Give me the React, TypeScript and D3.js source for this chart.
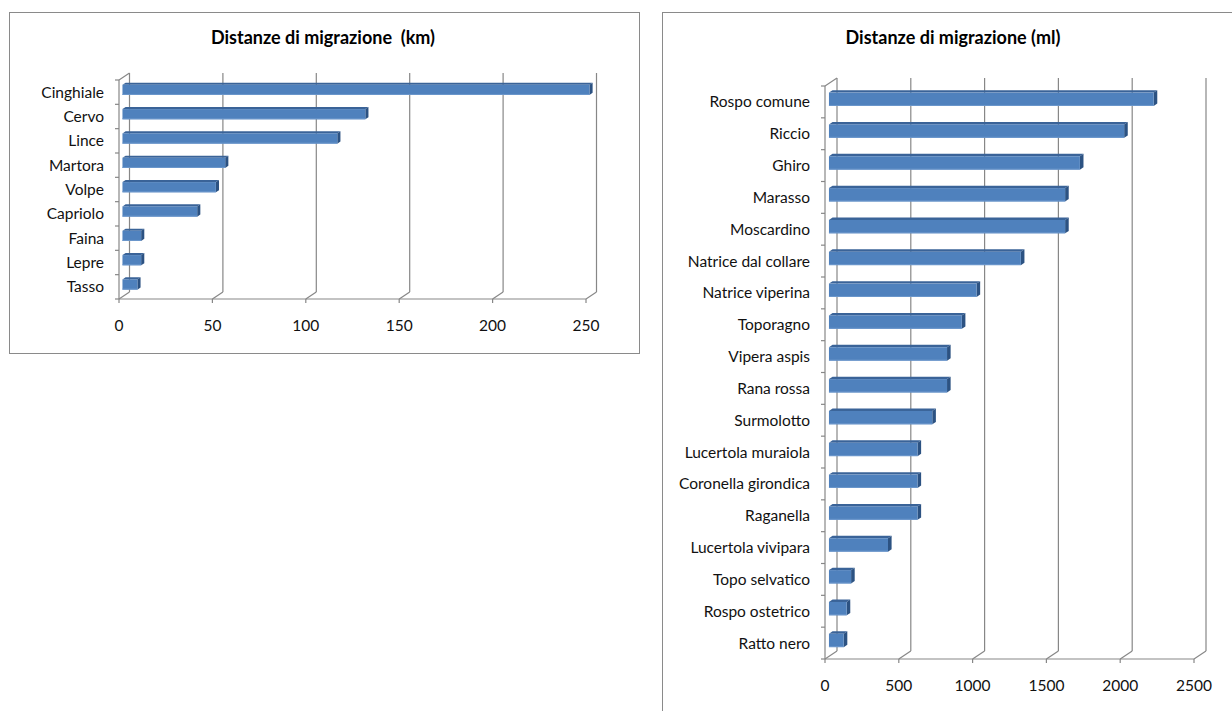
import * as d3 from "d3";
import React from "react";

// distanze in km (mammiferi)
const kmSpecies = ["Cinghiale", "Cervo", "Lince", "Martora", "Volpe", "Capriolo", "Faina", "Lepre", "Tasso"];
const kmValues = [250, 130, 115, 55, 50, 40, 10, 10, 8];
const kmTicks = [0, 50, 100, 150, 200, 250];

// distanze in metri lineari
const mlSpecies = [
  "Rospo comune", "Riccio", "Ghiro", "Marasso", "Moscardino", "Natrice dal collare",
  "Natrice viperina", "Toporagno", "Vipera aspis", "Rana rossa", "Surmolotto",
  "Lucertola muraiola", "Coronella girondica", "Raganella", "Lucertola vivipara",
  "Topo selvatico", "Rospo ostetrico", "Ratto nero",
];
const mlValues = [2200, 2000, 1700, 1600, 1600, 1300, 1000, 900, 800, 800, 700, 600, 600, 600, 400, 150, 120, 100];
const mlTicks = [0, 500, 1000, 1500, 2000, 2500];

const FONT = "Lato, 'Open Sans', sans-serif";
const GRID = "#878787";

type Layout = {
  frame: [number, number, number, number];
  titleX: number;
  titleY: number;
  x0: number;
  x1: number;
  yTop: number;
  yBottom: number;
  dx: number;
  dy: number;
  labelX: number;
  tickLabelY: number;
};

const Chart3D = ({ title, cats, vals, ticks, layout }: { title: string; cats: string[]; vals: number[]; ticks: number[]; layout: Layout }) => {
  const { dx, dy } = layout;
  const x = d3.scaleLinear().domain([0, ticks[ticks.length - 1]]).range([layout.x0, layout.x1]);
  const y = d3.scaleBand().domain(cats).range([layout.yTop, layout.yBottom]);
  const bw = y.bandwidth() * 0.42;
  const f0 = 0.33, f1 = 0.63; // bar depth inside the floor
  const ddx = (f1 - f0) * dx, ddy = (f1 - f0) * dy;
  const boundaries = cats.map((c) => y(c)!).concat([layout.yBottom]);
  const [fx, fy, fw, fh] = layout.frame;

  return (
    <g>
      <rect x={fx} y={fy} width={fw} height={fh} fill="#fff" stroke="#8a8a8a" strokeWidth={1} />
      <text x={layout.titleX} y={layout.titleY} textAnchor="middle" fontFamily={FONT} fontWeight="bold" fontSize={18} fill="#000" style={{ whiteSpace: "pre" }}>
        {title}
      </text>

      {/* back wall gridlines */}
      {ticks.map((t) => (
        <line key={"g" + t} x1={x(t) + dx} x2={x(t) + dx} y1={layout.yTop + dy} y2={layout.yBottom + dy} stroke={GRID} strokeWidth={1.2} />
      ))}
      {/* floor */}
      {ticks.map((t) => (
        <line key={"f" + t} x1={x(t)} x2={x(t) + dx} y1={layout.yBottom} y2={layout.yBottom + dy} stroke={GRID} strokeWidth={1.2} />
      ))}
      <line x1={x(0)} x2={x(ticks[ticks.length - 1])} y1={layout.yBottom} y2={layout.yBottom} stroke={GRID} strokeWidth={1.2} />
      {ticks.map((t) => (
        <line key={"t" + t} x1={x(t)} x2={x(t)} y1={layout.yBottom} y2={layout.yBottom + 4} stroke={GRID} strokeWidth={1.2} />
      ))}
      {/* side wall */}
      <line x1={x(0)} x2={x(0)} y1={layout.yTop} y2={layout.yBottom} stroke={GRID} strokeWidth={1.2} />
      <line x1={x(0)} x2={x(0) + dx} y1={layout.yTop} y2={layout.yTop + dy} stroke={GRID} strokeWidth={1.2} />
      {boundaries.map((b, i) => (
        <line key={"yt" + i} x1={x(0) - 4} x2={x(0)} y1={b} y2={b} stroke={GRID} strokeWidth={1.2} />
      ))}

      {/* bars */}
      {cats.map((c, i) => {
        const xa = x(0) + f0 * dx;
        const xb = x(vals[i]) + f0 * dx;
        const yc = y(c)! + y.bandwidth() / 2 + f0 * dy;
        const ya = yc - bw / 2, yb = yc + bw / 2;
        return (
          <g key={c}>
            <polygon points={`${xa},${ya} ${xb},${ya} ${xb + ddx},${ya + ddy} ${xa + ddx},${ya + ddy}`} fill="#3a6398" />
            <polygon points={`${xb},${ya} ${xb + ddx},${ya + ddy} ${xb + ddx},${yb + ddy} ${xb},${yb}`} fill="#2c5282" />
            <rect x={xa} y={ya} width={xb - xa} height={bw} fill="#4f81bd" />
            <line x1={xa} x2={xb} y1={yb - 0.5} y2={yb - 0.5} stroke="#6c97cc" strokeWidth={1} />
          </g>
        );
      })}

      {/* labels */}
      {cats.map((c) => (
        <text key={"l" + c} x={layout.labelX} y={y(c)! + y.bandwidth() / 2} dy="0.35em" textAnchor="end" fontFamily={FONT} fontSize={15.5} fill="#111">
          {c}
        </text>
      ))}
      {ticks.map((t) => (
        <text key={"tl" + t} x={x(t)} y={layout.tickLabelY} textAnchor="middle" fontFamily={FONT} fontSize={15.5} fill="#111">
          {t}
        </text>
      ))}
    </g>
  );
};

const kmLayout: Layout = {
  frame: [9.5, 12.5, 630, 341],
  titleX: 323, titleY: 44,
  x0: 119, x1: 586, yTop: 80, yBottom: 299, dx: 10.5, dy: -7,
  labelX: 104, tickLabelY: 331,
};

const mlLayout: Layout = {
  frame: [662.5, 12.5, 600, 710],
  titleX: 953, titleY: 44,
  x0: 825, x1: 1194, yTop: 86, yBottom: 659, dx: 12, dy: -8,
  labelX: 810, tickLabelY: 691,
};

export default function App() {
  return (
    <div style={{ position: "absolute", left: 0, top: 0, width: 1232, height: 711, background: "#fff" }}>
      <svg width={1232} height={711} viewBox="0 0 1232 711">
        <rect width={1232} height={711} fill="#fff" />
        <Chart3D title="Distanze di migrazione  (km)" cats={kmSpecies} vals={kmValues} ticks={kmTicks} layout={kmLayout} />
        <Chart3D title="Distanze di migrazione (ml)" cats={mlSpecies} vals={mlValues} ticks={mlTicks} layout={mlLayout} />
      </svg>
    </div>
  );
}
